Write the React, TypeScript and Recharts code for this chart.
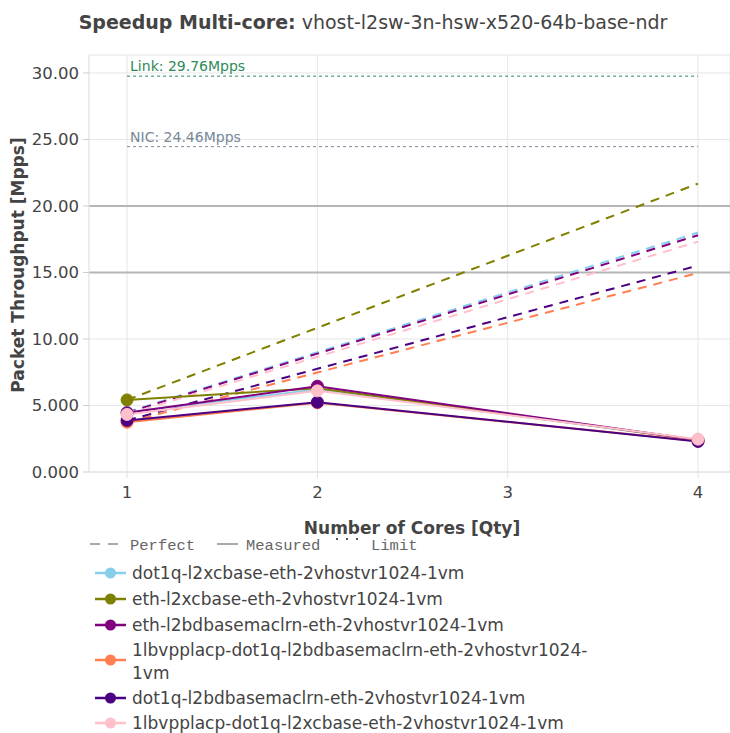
import React from 'react';
import { LineChart, Line, XAxis, YAxis, CartesianGrid, ReferenceLine } from 'recharts';

const cores = [1, 2, 4];
const xTicks = [1, 2, 3, 4];
const yTicks = [0, 5, 10, 15, 20, 25, 30];
const yTickLabels = ['0.000', '5.000', '10.00', '15.00', '20.00', '25.00', '30.00'];

const seriesNames = [
  'dot1q-l2xcbase-eth-2vhostvr1024-1vm',
  'eth-l2xcbase-eth-2vhostvr1024-1vm',
  'eth-l2bdbasemaclrn-eth-2vhostvr1024-1vm',
  '1lbvpplacp-dot1q-l2bdbasemaclrn-eth-2vhostvr1024-1vm',
  'dot1q-l2bdbasemaclrn-eth-2vhostvr1024-1vm',
  '1lbvpplacp-dot1q-l2xcbase-eth-2vhostvr1024-1vm',
];
const legendLines = [
  ['dot1q-l2xcbase-eth-2vhostvr1024-1vm'],
  ['eth-l2xcbase-eth-2vhostvr1024-1vm'],
  ['eth-l2bdbasemaclrn-eth-2vhostvr1024-1vm'],
  ['1lbvpplacp-dot1q-l2bdbasemaclrn-eth-2vhostvr1024-', '1vm'],
  ['dot1q-l2bdbasemaclrn-eth-2vhostvr1024-1vm'],
  ['1lbvpplacp-dot1q-l2xcbase-eth-2vhostvr1024-1vm'],
];
const seriesColors = ['#87CEEB', '#808000', '#800080', '#FF7F50', '#4B0082', '#FFC0CB'];

// Measured throughput [Mpps] at 1, 2, 4 cores
const measuredDot1qL2xc = [4.5, 6.2, 2.4];
const measuredEthL2xc = [5.42, 6.3, 2.4];
const measuredEthL2bd = [4.45, 6.45, 2.4];
const measuredLacpDot1qL2bd = [3.74, 5.2, 2.33];
const measuredDot1qL2bd = [3.88, 5.25, 2.3];
const measuredLacpDot1qL2xc = [4.33, 6.1, 2.47];

// Perfect scaling [Mpps] at 1, 2, 4 cores
const perfectDot1qL2xc = [4.5, 9.0, 18.0];
const perfectEthL2xc = [5.42, 10.84, 21.68];
const perfectEthL2bd = [4.45, 8.9, 17.8];
const perfectLacpDot1qL2bd = [3.74, 7.48, 14.96];
const perfectDot1qL2bd = [3.88, 7.76, 15.52];
const perfectLacpDot1qL2xc = [4.33, 8.66, 17.32];

const measuredAll = [
  measuredDot1qL2xc, measuredEthL2xc, measuredEthL2bd,
  measuredLacpDot1qL2bd, measuredDot1qL2bd, measuredLacpDot1qL2xc,
];
const perfectAll = [
  perfectDot1qL2xc, perfectEthL2xc, perfectEthL2bd,
  perfectLacpDot1qL2bd, perfectDot1qL2bd, perfectLacpDot1qL2xc,
];

const limitValues = [29.76, 24.46];
const limitLabels = ['Link: 29.76Mpps', 'NIC: 24.46Mpps'];
const limitColors = ['#2E8B57', '#778899'];

const toData = (vals: number[]) => cores.map((c, i) => ({ cores: c, value: vals[i] }));

const FONT = '"DejaVu Sans", sans-serif';
const TEXT = '#444';

const LimitLabel = (text: string, color: string) => (props: any) => {
  const vb = props.viewBox || {};
  return (
    <text x={vb.x + 3} y={vb.y - 5} fill={color} fontSize={14} fontFamily={FONT}>
      {text}
    </text>
  );
};

export default function App() {
  const legendY = [573, 599, 625, 660, 698, 723];
  return (
    <div style={{ position: 'absolute', left: 0, top: 0, width: 730, height: 733, background: '#fff', fontFamily: FONT }}>
      <LineChart
        width={730}
        height={733}
        margin={{ top: 55, right: 0, left: 0, bottom: 231 }}
        style={{ fontFamily: FONT }}
      >
        <CartesianGrid stroke="#e6e6e6" strokeWidth={1} vertical horizontal />
        <XAxis
          type="number"
          dataKey="cores"
          domain={[0.8, 4.168]}
          ticks={xTicks}
          height={30}
          allowDataOverflow
          tick={{ fill: TEXT, fontSize: 16.5 }}
          tickSize={6}
          tickMargin={8}
          axisLine={{ stroke: '#e0e0e0' }}
          tickLine={{ stroke: '#e0e0e0' }}
        />
        <YAxis
          type="number"
          domain={[0, 31.35]}
          ticks={yTicks}
          width={89}
          allowDataOverflow
          tickFormatter={(v: number) => yTickLabels[yTicks.indexOf(v)] ?? String(v)}
          tick={{ fill: TEXT, fontSize: 16.5 }}
          tickSize={6}
          tickMargin={4}
          axisLine={{ stroke: '#e6e6e6' }}
          tickLine={{ stroke: '#cccccc' }}
        />
        <ReferenceLine y={15} stroke="#b5b5b5" strokeWidth={2} />
        <ReferenceLine y={20} stroke="#b5b5b5" strokeWidth={2} />
        {limitValues.map((v, i) => (
          <ReferenceLine
            key={'lim' + i}
            segment={[{ x: 1, y: v }, { x: 4, y: v }]}
            stroke={limitColors[i]}
            strokeWidth={1}
            strokeDasharray="3 3"
            label={LimitLabel(limitLabels[i], limitColors[i])}
          />
        ))}
        {perfectAll.map((vals, i) => (
          <Line
            key={'p' + i}
            data={toData(vals)}
            dataKey="value"
            type="linear"
            stroke={seriesColors[i]}
            strokeWidth={2}
            strokeDasharray="9 7"
            dot={false}
            activeDot={false}
            isAnimationActive={false}
            name={seriesNames[i] + ' perfect'}
          />
        ))}
        {measuredAll.map((vals, i) => (
          <Line
            key={'m' + i}
            data={toData(vals)}
            dataKey="value"
            type="linear"
            stroke={seriesColors[i]}
            strokeWidth={2}
            dot={{ r: 6, fill: seriesColors[i], stroke: seriesColors[i], strokeWidth: 1 }}
            activeDot={false}
            isAnimationActive={false}
            name={seriesNames[i]}
          />
        ))}
      </LineChart>
      <svg
        width={730}
        height={733}
        style={{ position: 'absolute', left: 0, top: 0, pointerEvents: 'none' }}
        fontFamily={FONT}
      >
        <text x={373} y={29} textAnchor="middle" fontSize={19} fill={TEXT}>
          <tspan fontWeight="bold">Speedup Multi-core:</tspan>
          <tspan> vhost-l2sw-3n-hsw-x520-64b-base-ndr</tspan>
        </text>
        <text x={412} y={534} textAnchor="middle" fontSize={17} fontWeight="bold" fill={TEXT}>
          Number of Cores [Qty]
        </text>
        <text
          x={24}
          y={265}
          textAnchor="middle"
          fontSize={17}
          fontWeight="bold"
          fill={TEXT}
          transform="rotate(-90 24 265)"
        >
          Packet Throughput [Mpps]
        </text>
        <g fontFamily={'"Liberation Mono", monospace'} fontSize={15.5} fill="#666">
          <line x1={90} y1={544} x2={119} y2={544} stroke="#555" strokeWidth={1} strokeDasharray="10 8" />
          <text x={130} y={550}>Perfect</text>
          <line x1={217} y1={544} x2={238} y2={544} stroke="#555" strokeWidth={1} />
          <text x={246} y={550}>Measured</text>
          <line x1={336} y1={539} x2={358} y2={539} stroke="#555" strokeWidth={2} strokeDasharray="2 8" />
          <text x={371} y={550}>Limit</text>
        </g>
        {seriesNames.map((n, i) => (
          <g key={'lg' + i}>
            <line x1={95} y1={legendY[i]} x2={126} y2={legendY[i]} stroke={seriesColors[i]} strokeWidth={2.5} />
            <circle cx={110.5} cy={legendY[i]} r={5.5} fill={seriesColors[i]} />
            {legendLines[i].length === 1 ? (
              <text x={132} y={legendY[i] + 6} fontSize={17} fill={TEXT}>{legendLines[i][0]}</text>
            ) : (
              <text x={132} y={legendY[i] - 4} fontSize={17} fill={TEXT}>
                <tspan x={132} dy={0}>{legendLines[i][0]}</tspan>
                <tspan x={132} dy={23}>{legendLines[i][1]}</tspan>
              </text>
            )}
          </g>
        ))}
      </svg>
    </div>
  );
}
